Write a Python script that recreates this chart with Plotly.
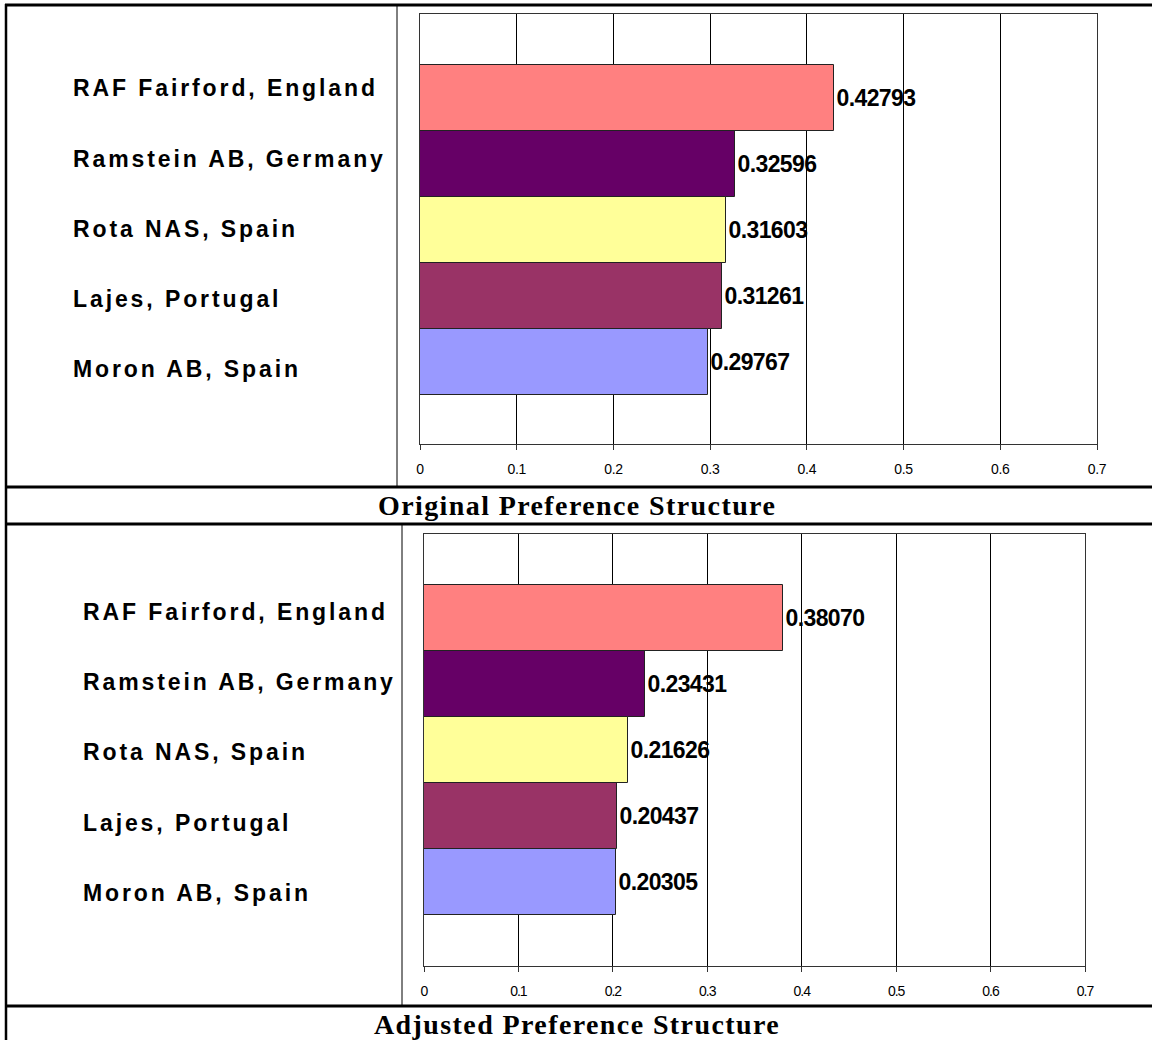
import plotly.graph_objects as go

W, H = 1152, 1040

categories = ["RAF Fairford, England", "Ramstein AB, Germany", "Rota NAS, Spain",
              "Lajes, Portugal", "Moron AB, Spain"]
original_values = [0.42793, 0.32596, 0.31603, 0.31261, 0.29767]
adjusted_values = [0.38070, 0.23431, 0.21626, 0.20437, 0.20305]
bar_colors = ["#FF8080", "#660066", "#FFFF99", "#993366", "#9999FF"]
x_ticks = [0, 0.1, 0.2, 0.3, 0.4, 0.5, 0.6, 0.7]
x_tick_labels = ["0", "0.1", "0.2", "0.3", "0.4", "0.5", "0.6", "0.7"]
panel_titles = ["Original Preference Structure", "Adjusted Preference Structure"]


def px_x(p):
    return p / W


def px_y(p):
    return 1 - p / H


def spaced(text, ls):
    return '<span style="letter-spacing:%spx">%s</span>' % (ls, text)


fig = go.Figure()

panels = [
    dict(values=original_values, xa="x", ya="y",
         dom_x=[420, 1097], dom_y=[14, 444], yrange=[-1.24, 5.27],
         label_y=[88, 159, 229, 299, 369], label_x=71, tick_ls=-0.3),
    dict(values=adjusted_values, xa="x2", ya="y2",
         dom_x=[424, 1085], dom_y=[534, 966], yrange=[-1.27, 5.27],
         label_y=[612, 682, 752, 823, 893], label_x=81, tick_ls=-1.0),
]

order = list(reversed(categories))

for i, p in enumerate(panels):
    fig.add_trace(go.Bar(
        x=p["values"], y=categories, orientation="h",
        marker=dict(color=bar_colors, line=dict(color="#222222", width=1)),
        texttemplate=spaced("%{x:.5f}", -0.6), textposition="outside",
        textfont=dict(family="Liberation Sans", size=23, color="black", weight="bold"),
        constraintext="none",
        cliponaxis=False, xaxis=p["xa"], yaxis=p["ya"], showlegend=False,
        hoverinfo="skip",
    ))
    sfx = "" if i == 0 else "2"
    fig.update_layout(**{
        "xaxis" + sfx: dict(
            domain=[px_x(p["dom_x"][0]), px_x(p["dom_x"][1])],
            range=[0, 0.7], anchor="y" + sfx, automargin=False,
            tickvals=x_ticks, ticktext=[spaced(t, p["tick_ls"]) for t in x_tick_labels],
            showgrid=True, gridcolor="#000000", gridwidth=1,
            showline=True, linecolor="#333333", linewidth=1, mirror=True,
            ticks="outside", ticklen=5, tickcolor="#333333",
            ticklabelstandoff=7,
            tickfont=dict(family="Liberation Sans", size=14, color="black"),
            zeroline=False, fixedrange=True,
        ),
        "yaxis" + sfx: dict(
            domain=[px_y(p["dom_y"][1]), px_y(p["dom_y"][0])],
            type="category", categoryorder="array", categoryarray=order,
            range=p["yrange"], anchor="x" + sfx, automargin=False,
            showticklabels=False, showgrid=False, ticks="",
            showline=True, linecolor="#333333", linewidth=1, mirror=True,
            zeroline=False, fixedrange=True,
        ),
    })
    for cat, ly in zip(categories, p["label_y"]):
        fig.add_annotation(
            xref="paper", yref="paper", x=px_x(p["label_x"]), y=px_y(ly),
            xanchor="left", yanchor="middle", showarrow=False,
            text=spaced(cat, 2.9),
            font=dict(family="Liberation Sans", size=23, color="black", weight="bold"),
        )

# panel titles
for t, ty in zip(panel_titles, [505, 1024]):
    fig.add_annotation(
        xref="paper", yref="paper", x=px_x(577), y=px_y(ty),
        xanchor="center", yanchor="middle", showarrow=False, text=spaced(t, 1.4),
        font=dict(family="Liberation Serif", size=28, color="black", weight="bold"),
    )

# table lines
shapes = []


def line(x0, y0, x1, y1, w):
    shapes.append(dict(type="line", xref="paper", yref="paper",
                       x0=px_x(x0), y0=px_y(y0), x1=px_x(x1), y1=px_y(y1),
                       line=dict(color="black", width=w)))


line(5, 5, 1152, 5, 3)        # top border
line(6, 4, 6, 1040, 2.5)      # left border
line(5, 487, 1152, 487, 3)
line(5, 524, 1152, 524, 3)
line(5, 1006, 1152, 1006, 3)
line(397, 5, 397, 487, 1)
line(402, 524, 402, 1006, 1)

fig.update_layout(
    width=W, height=H, margin=dict(l=0, r=0, t=0, b=0, autoexpand=False),
    paper_bgcolor="white", plot_bgcolor="white",
    bargap=0, shapes=shapes,
)

post = (
    "document.documentElement.style.overflow='hidden';"
    "document.body.style.margin='0';"
    "document.body.style.overflow='hidden';"
)

fig.write_html("out.html", config={"displayModeBar": False}, post_script=post)
